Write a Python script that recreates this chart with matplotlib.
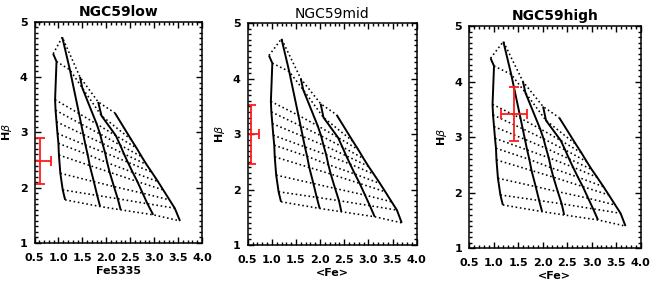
import numpy as np
import matplotlib
matplotlib.use('Agg')
import matplotlib.pyplot as plt
from matplotlib.ticker import MultipleLocator

# model grid: one list per metallicity track, one entry per age (young -> old)
hbeta = [
    [4.42, 4.28, 3.59, 3.40, 3.19, 2.98, 2.80, 2.59, 2.26, 1.96, 1.78],
    [4.72, 4.13, 3.34, 3.15, 2.96, 2.77, 2.60, 2.40, 2.11, 1.86, 1.66],
    [4.00, 3.80, 3.15, 2.97, 2.80, 2.63, 2.45, 2.28, 2.02, 1.80, 1.60],
    [3.55, 3.30, 2.94, 2.77, 2.61, 2.46, 2.28, 2.11, 1.90, 1.71, 1.51],
    [3.35, 2.87, 2.72, 2.56, 2.42, 2.28, 2.11, 1.96, 1.78, 1.63, 1.40],
]
fe5335 = [
    [0.89, 0.96, 0.93, 0.94, 0.96, 0.98, 1.00, 1.01, 1.04, 1.09, 1.14],
    [1.08, 1.24, 1.43, 1.475, 1.52, 1.565, 1.61, 1.655, 1.74, 1.81, 1.87],
    [1.45, 1.50, 1.80, 1.87, 1.92, 1.975, 2.02, 2.07, 2.16, 2.24, 2.30],
    [1.83, 1.90, 2.20, 2.29, 2.37, 2.45, 2.55, 2.65, 2.76, 2.86, 2.98],
    [2.18, 2.52, 2.63, 2.74, 2.84, 2.95, 3.08, 3.19, 3.32, 3.43, 3.54],
]
fe_mean = [
    [0.94, 1.01, 0.98, 0.99, 1.01, 1.03, 1.05, 1.06, 1.09, 1.14, 1.19],
    [1.20, 1.36, 1.55, 1.595, 1.64, 1.685, 1.73, 1.775, 1.86, 1.93, 1.99],
    [1.60, 1.65, 1.95, 2.02, 2.07, 2.125, 2.17, 2.22, 2.31, 2.39, 2.44],
    [2.01, 2.07, 2.37, 2.46, 2.54, 2.62, 2.72, 2.82, 2.93, 3.03, 3.13],
    [2.34, 2.68, 2.79, 2.90, 3.00, 3.11, 3.24, 3.35, 3.48, 3.59, 3.69],
]

titles = ['NGC59low', 'NGC59mid', 'NGC59high']
xlabels = ['Fe5335', '<Fe>', '<Fe>']
title_weights = ['bold', 'normal', 'bold']
xticks = [0.5, 1.0, 1.5, 2.0, 2.5, 3.0, 3.5, 4.0]
xticklabels = ['0.5', '1.0', '1.5', '2.0', '2.5', '3.0', '3.5', '4.0']
yticks = [1, 2, 3, 4, 5]

# measured points: x, xerr, y, yerr
obs_x = [0.61, 0.57, 1.42]
obs_xerr = [0.24, 0.16, 0.27]
obs_y = [2.48, 3.00, 3.42]
obs_yerr = [0.41, 0.53, 0.49]

grids = [fe5335, fe_mean, fe_mean]

fig = plt.figure(figsize=(6.54, 2.84), dpi=100)
W, H = 654, 284
boxes = [(34.5, 21.7, 202, 243), (247.7, 23.3, 416.7, 245), (469, 26, 640.7, 248.3)]

for k in range(3):
    l, t, r, b = boxes[k]
    ax = fig.add_axes([l / W, 1 - b / H, (r - l) / W, (b - t) / H])
    xs = grids[k]
    for i in range(len(xs)):
        ax.plot(xs[i], hbeta[i], color='k', lw=1.4, solid_capstyle='butt')
    for j in range(len(hbeta[0])):
        ax.plot([xs[i][j] for i in range(len(xs))], [hbeta[i][j] for i in range(len(xs))],
                color='k', lw=1.15, linestyle=(0, (1, 1.7)))
    ax.errorbar(obs_x[k], obs_y[k], xerr=obs_xerr[k], yerr=obs_yerr[k],
                color='#ff1a1a', lw=1.3, capsize=3.5, capthick=1.3)
    ax.set_xlim(0.5, 4.0)
    ax.set_ylim(1, 5)
    ax.set_xticks(xticks)
    ax.set_xticklabels(xticklabels, fontweight='bold')
    ax.set_yticks(yticks)
    ax.set_yticklabels([str(v) for v in yticks], fontweight='bold')
    ax.xaxis.set_minor_locator(MultipleLocator(0.1))
    ax.yaxis.set_minor_locator(MultipleLocator(0.1))
    ax.tick_params(which='both', direction='in', top=True, right=True, width=1)
    ax.tick_params(which='major', length=4, labelsize=8)
    ax.tick_params(axis='x', which='major', pad=7)
    ax.tick_params(axis='y', which='major', pad=5)
    ax.tick_params(which='minor', length=2)
    for s in ax.spines.values():
        s.set_linewidth(1.1)
    ax.set_title(titles[k], fontsize=10, fontweight=title_weights[k], pad=4)
    ax.set_xlabel(xlabels[k], fontsize=8, fontweight='bold', labelpad=2)
    ax.set_ylabel(r'H$\beta$', fontsize=8, fontweight='bold', labelpad=4)

fig.savefig('out.png', dpi=100)
